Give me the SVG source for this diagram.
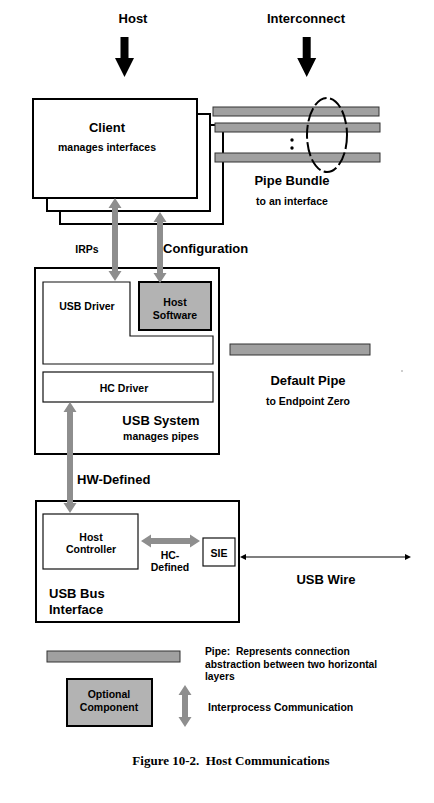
<svg xmlns="http://www.w3.org/2000/svg" width="434" height="803" viewBox="0 0 434 803">
<style>
text{font-family:"Liberation Sans",Arial,sans-serif;font-weight:bold;fill:#000}
.l{font-size:13px}
.s{font-size:10.5px}
.box{fill:#fff;stroke:#000;stroke-width:2}
.thin{fill:#fff;stroke:#111;stroke-width:1.2}
.opt{fill:#b3b3b3;stroke:#000;stroke-width:2}
.pipe{fill:#a0a0a0;stroke:#333;stroke-width:1}
.ipc{fill:#8e8e8e}
.blk{fill:#000}
</style>
<rect width="434" height="803" fill="#fff"/>

<g id="labels-top">
<text class="l" x="133" y="23" text-anchor="middle">Host</text>
<text class="l" x="306" y="23" text-anchor="middle">Interconnect</text>
</g>

<g id="client">
<rect class="box" x="60" y="125" width="163" height="99"/>
<rect class="box" x="47" y="114" width="163" height="97"/>
<rect class="box" x="33" y="99" width="164" height="99"/>
<text class="l" x="107" y="132" text-anchor="middle">Client</text>
<text class="s" x="107" y="151" text-anchor="middle">manages interfaces</text>
</g>

<g id="pipe-bundle">
<rect class="pipe" x="213" y="107" width="166" height="9"/>
<rect class="pipe" x="215" y="123" width="165" height="9"/>
<rect class="pipe" x="215" y="153" width="165" height="9"/>
<circle cx="292" cy="140" r="1.7" fill="#000"/>
<circle cx="292" cy="148" r="1.7" fill="#000"/>
<ellipse cx="327" cy="135" rx="20" ry="37" fill="none" stroke="#000" stroke-width="2" stroke-dasharray="14,3.5"/>
<text class="l" x="292" y="185" text-anchor="middle">Pipe Bundle</text>
<text class="s" x="292" y="205" text-anchor="middle">to an interface</text>
</g>

<g id="usb-system">
<rect class="box" x="35" y="268" width="184" height="186"/>
<path class="thin" d="M43,282 H130 V336 H213 V364 H43 Z"/>
<text class="s" x="87" y="310" text-anchor="middle">USB Driver</text>
<rect class="opt" x="139" y="282" width="72" height="48"/>
<text class="s" x="175" y="306" text-anchor="middle">Host</text>
<text class="s" x="175" y="319" text-anchor="middle">Software</text>
<rect class="thin" x="43" y="372" width="170" height="30"/>
<text class="s" x="124" y="392" text-anchor="middle">HC Driver</text>
<text class="l" x="161" y="425" text-anchor="middle">USB System</text>
<text class="s" x="161" y="440" text-anchor="middle">manages pipes</text>
</g>

<g id="default-pipe">
<rect class="pipe" x="230" y="344" width="140" height="11"/>
<text class="l" x="308" y="385" text-anchor="middle">Default Pipe</text>
<text class="s" x="308" y="405" text-anchor="middle">to Endpoint Zero</text>
<circle cx="402" cy="371" r="0.7" fill="#777"/>
</g>

<g id="usb-bus-interface">
<rect class="box" x="36" y="501" width="203" height="121"/>
<rect class="thin" x="43" y="514" width="95" height="55"/>
<text class="s" x="91" y="541" text-anchor="middle">Host</text>
<text class="s" x="91" y="553" text-anchor="middle">Controller</text>
<rect class="thin" x="203" y="538" width="32" height="28"/>
<text class="s" x="219" y="557" text-anchor="middle">SIE</text>
<text class="l" x="49" y="598">USB Bus</text>
<text class="l" x="49" y="614">Interface</text>
</g>

<g id="connectors">
<polygon class="blk" points="120.5,37 128.5,37 128.5,58 134,58 124.5,77 115,58 120.5,58"/>
<polygon class="blk" points="302.7,37 310.7,37 310.7,58 316.2,58 306.7,77 297.2,58 302.7,58"/>
<polygon class="ipc" points="115,198 121.5,208 118,208 118,271 121.5,271 115,281 108.5,271 112,271 112,208 108.5,208"/>
<polygon class="ipc" points="160,212 166.5,222 163,222 163,273 166.5,273 160,283 153.5,273 157,273 157,222 153.5,222"/>
<polygon class="ipc" points="70,402 76.5,412 73,412 73,503 76.5,503 70,513 63.5,503 67,503 67,412 63.5,412"/>
<polygon class="ipc" points="141,541 151,534.5 151,538 190,538 190,534.5 200,541 190,547.5 190,544 151,544 151,547.5"/>
<line x1="242" y1="557" x2="408" y2="557" stroke="#000" stroke-width="1.2"/>
<polygon class="blk" points="240,557 246,554 246,560"/>
<polygon class="blk" points="411,557 405,554 405,560"/>
</g>

<g id="conn-labels">
<text class="s" x="87" y="253" text-anchor="middle">IRPs</text>
<text class="l" x="163" y="253">Configuration</text>
<text class="l" x="77" y="484">HW-Defined</text>
<text class="s" x="170" y="559" text-anchor="middle">HC-</text>
<text class="s" x="170" y="571" text-anchor="middle">Defined</text>
<text class="l" x="326" y="584" text-anchor="middle">USB Wire</text>
</g>

<g id="legend">
<rect class="pipe" x="47" y="651" width="133" height="11"/>
<text class="s" x="205" y="655" style="font-size:10.3px">Pipe:&#160; Represents connection</text>
<text class="s" x="205" y="668" style="font-size:10.3px">abstraction between two horizontal</text>
<text class="s" x="205" y="680" style="font-size:10.3px">layers</text>
<rect class="opt" x="67" y="679" width="85" height="47" stroke-width="3"/>
<text class="s" x="109" y="698" text-anchor="middle">Optional</text>
<text class="s" x="109" y="711" text-anchor="middle">Component</text>
<polygon class="ipc" points="185,685 191.5,695 188,695 188,717 191.5,717 185,727 178.5,717 182,717 182,695 178.5,695"/>
<text class="s" x="208" y="711">Interprocess Communication</text>
</g>

<text x="231" y="765" text-anchor="middle" style="font-family:'Liberation Serif','Times New Roman',serif;font-size:13px;font-weight:bold">Figure 10-2.&#160; Host Communications</text>
</svg>
